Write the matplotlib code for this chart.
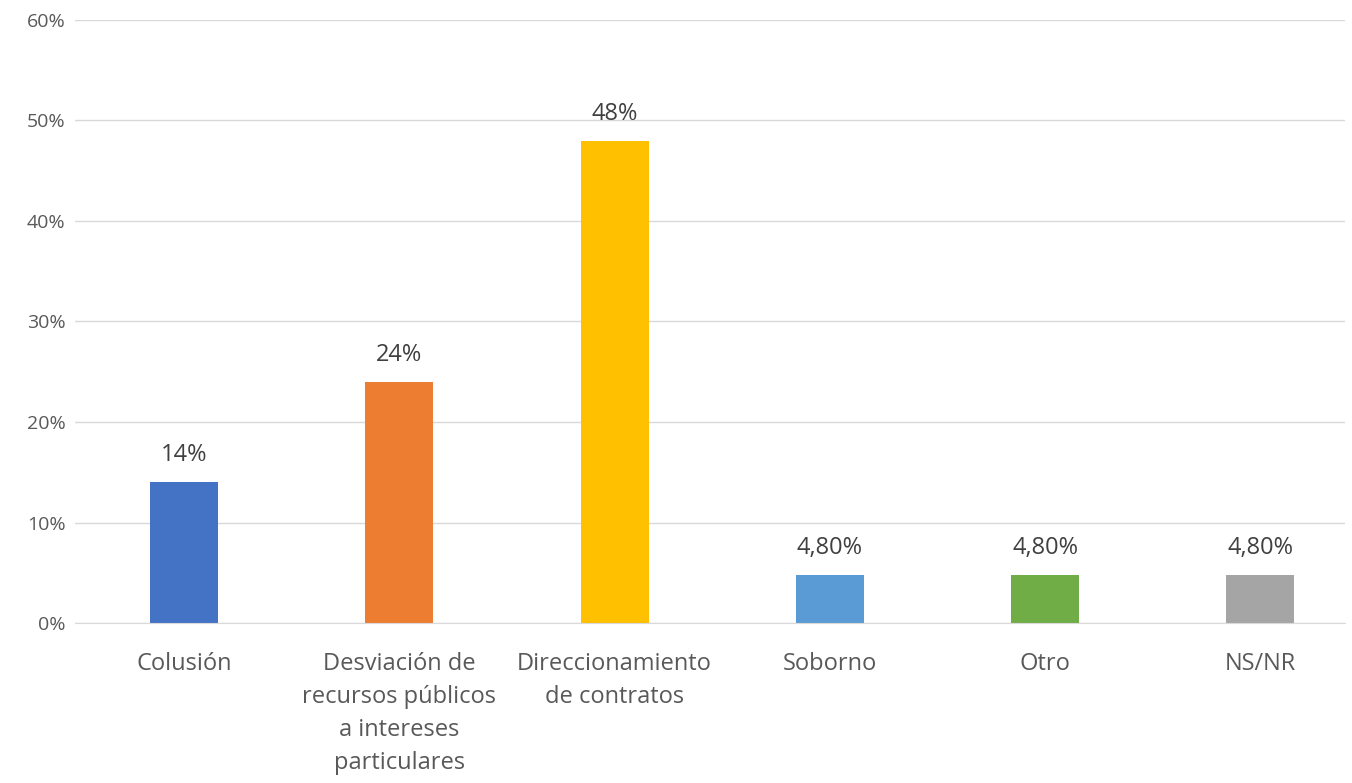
import matplotlib.pyplot as plt
import numpy as np

categories = ['Colusión', 'Desviación de\nrecursos públicos\na intereses\nparticulares',
              'Direccionamiento\nde contratos', 'Soborno', 'Otro', 'NS/NR']
values = [14, 24, 48, 4.8, 4.8, 4.8]
value_labels = ['14%', '24%', '48%', '4,80%', '4,80%', '4,80%']
colors = ['#4472C4', '#ED7D31', '#FFC000', '#5B9BD5', '#70AD47', '#A5A5A5']
yticks = [0, 10, 20, 30, 40, 50, 60]

plt.rcParams['font.family'] = ['Open Sans', 'DejaVu Sans']
text_color = '#595959'

fig = plt.figure(figsize=(13.52, 7.83), dpi=100)
ax = fig.add_axes([0.0555, 0.2043, 0.9395, 0.7702])

x = np.arange(len(categories))
bars = ax.bar(x, values, width=0.316, color=colors, zorder=3)
for b, lab in zip(bars, value_labels):
    ax.text(b.get_x() + b.get_width() / 2, b.get_height() + 1.5, lab,
            ha='center', va='bottom', fontsize=17, color='#404040')

ax.set_xlim(-0.507, 5.395)
ax.set_ylim(0, 60)
ax.set_yticks(yticks)
ax.set_yticklabels([f'{t}%' for t in yticks], fontsize=14, color=text_color)
ax.set_xticks(x)
ax.set_xticklabels(categories, fontsize=17, color=text_color, linespacing=1.5)
ax.tick_params(axis='both', length=0)
ax.tick_params(axis='x', pad=21)
ax.tick_params(axis='y', pad=7)

ax.grid(axis='y', color='#D9D9D9', linewidth=1, zorder=0)
for s in ['top', 'right', 'left']:
    ax.spines[s].set_visible(False)
ax.spines['bottom'].set_color('#D9D9D9')
ax.spines['bottom'].set_zorder(4)

fig.savefig('out.png', dpi=100)
